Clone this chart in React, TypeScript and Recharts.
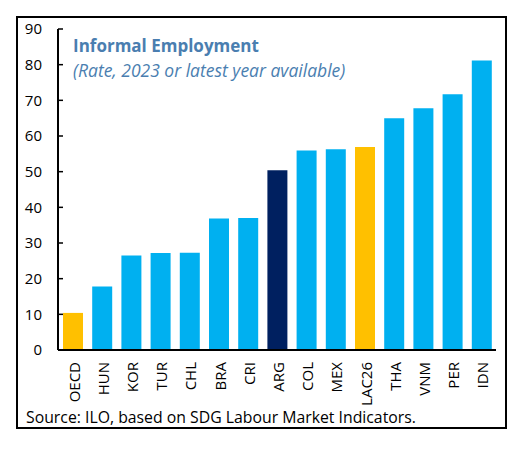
import React from 'react';
import { BarChart, Bar, XAxis, YAxis, Cell, ReferenceArea } from 'recharts';

const categories = ['OECD', 'HUN', 'KOR', 'TUR', 'CHL', 'BRA', 'CRI', 'ARG', 'COL', 'MEX', 'LAC26', 'THA', 'VNM', 'PER', 'IDN'];
const values = [10.4, 17.8, 26.5, 27.2, 27.3, 36.9, 37.0, 50.4, 55.9, 56.3, 56.9, 65.0, 67.8, 71.7, 81.2];
const goldGroups = ['OECD', 'LAC26'];
const navyGroups = ['ARG'];
const yTicks = [0, 10, 20, 30, 40, 50, 60, 70, 80, 90];
const boundaryTicks = [0, 1, 2, 3, 4, 5, 6, 7, 8, 9, 10, 11, 12, 13, 14, 15];

const data = categories.map((c, i) => ({ name: c, value: values[i] }));

const FONT = '"Open Sans", "Noto Sans", sans-serif';

const colorFor = (c: string) =>
  goldGroups.includes(c) ? '#FFC000' : navyGroups.includes(c) ? '#002060' : '#00B0F0';

const XTick = (props: any) => {
  const { x, y, payload } = props;
  return (
    <text
      x={0}
      y={0}
      transform={`translate(${x + 1},${y + 12}) rotate(-90)`}
      textAnchor="end"
      dominantBaseline="central"
      fontSize={15}
      fontFamily={FONT}
      fill="#000"
    >
      {payload.value}
    </text>
  );
};

export default function App() {
  return (
    <div style={{ position: 'relative', width: 510, height: 433 }}>
      <div
        style={{
          position: 'absolute',
          left: 8,
          top: 8,
          width: 491,
          height: 413,
          border: '2px solid #000',
          boxSizing: 'border-box',
          background: '#fff',
        }}
      >
        <BarChart
          width={487}
          height={405}
          data={data}
          margin={{ top: 11, right: 9, left: 0, bottom: 0 }}
          barSize={20}
        >
          <XAxis
            xAxisId="bounds"
            type="number"
            domain={[0, 15]}
            ticks={boundaryTicks}
            allowDataOverflow
            height={0}
            mirror
            tick={false}
            axisLine={false}
            tickSize={5}
            tickLine={{ stroke: '#000', strokeWidth: 1.5 }}
          />
          <XAxis
            xAxisId="cat"
            dataKey="name"
            type="category"
            height={73}
            interval={0}
            axisLine={{ stroke: '#000', strokeWidth: 2 }}
            tickLine={false}
            tickSize={0}
            tickMargin={0}
            tick={<XTick />}
          />
          <YAxis
            domain={[0, 90]}
            ticks={yTicks}
            width={40}
            interval={0}
            axisLine={{ stroke: '#000', strokeWidth: 2 }}
            tickLine={{ stroke: '#000', strokeWidth: 1.5 }}
            tickSize={-5}
            tickMargin={21}
            tick={{ fontSize: 15, fontFamily: FONT, fill: '#000' }}
          />
          <ReferenceArea
            xAxisId="bounds"
            x1={0}
            x2={15}
            y1={0}
            y2={90}
            fill="none"
            fillOpacity={0}
            stroke="#000"
            strokeWidth={2}
          />
          <Bar xAxisId="cat" dataKey="value" isAnimationActive={false}>
            {data.map((d) => (
              <Cell key={d.name} fill={colorFor(d.name)} />
            ))}
          </Bar>
        </BarChart>
        <div
          style={{
            position: 'absolute',
            left: 55,
            top: 15,
            fontFamily: FONT,
            color: '#4A7EB0',
            lineHeight: '25px',
          }}
        >
          <div style={{ fontWeight: 700, fontSize: 17 }}>Informal Employment</div>
          <div style={{ fontStyle: 'italic', fontSize: 17.5 }}>(Rate, 2023 or latest year available)</div>
        </div>
        <div
          style={{
            position: 'absolute',
            left: 8,
            top: 388,
            fontFamily: FONT,
            fontSize: 15.8,
            lineHeight: '22px',
            color: '#000',
            whiteSpace: 'nowrap',
          }}
        >
          Source: ILO, based on SDG Labour Market Indicators.
        </div>
      </div>
    </div>
  );
}
